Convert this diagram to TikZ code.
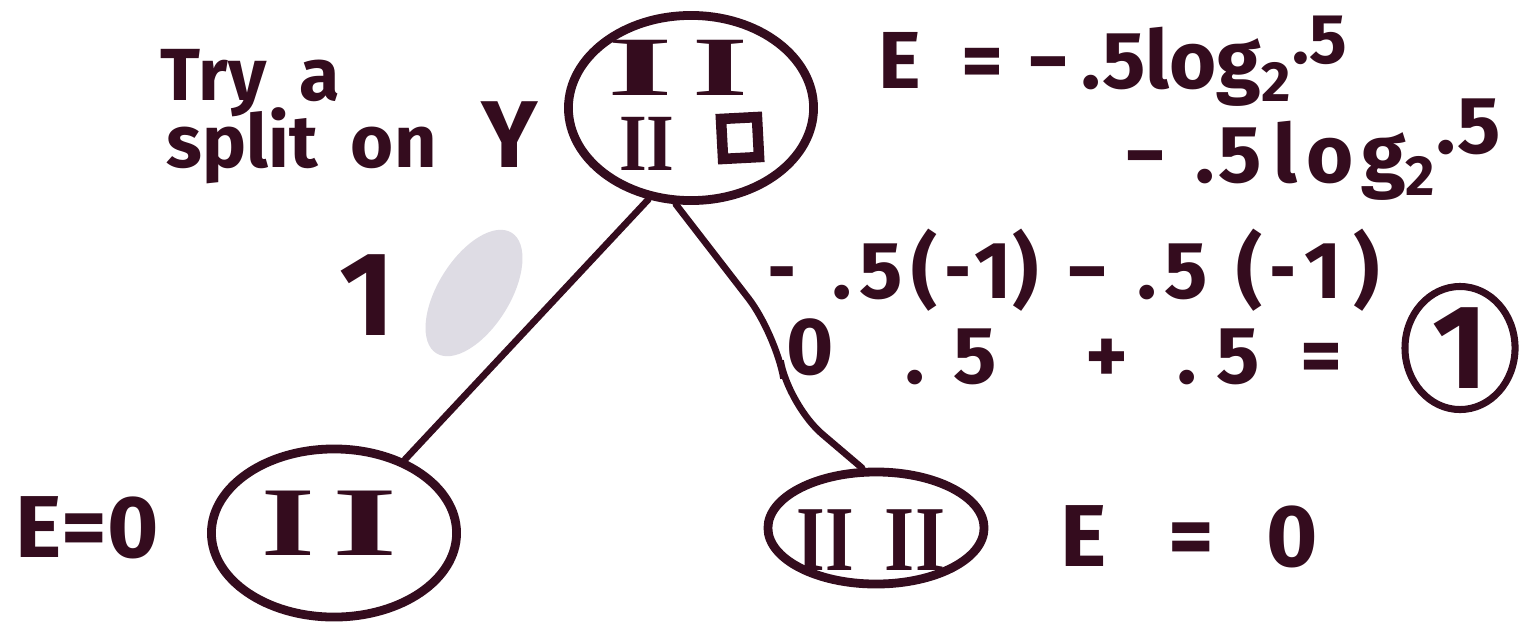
\documentclass[tikz,border=0pt]{standalone}
\usepackage{fontspec}
\setmainfont{Fira Sans}
\newfontfamily\romfont{Liberation Serif}
\usetikzlibrary{shapes.geometric}
\definecolor{ink}{RGB}{52,12,30}
\definecolor{smudgegray}{RGB}{222,220,228}
\newcommand\gp[1]{\hspace{#1em}}
\newcommand\shm[1]{\scalebox{#1}[1]{−}}
\begin{document}
\begin{tikzpicture}[x=0.01cm,y=-0.01cm,
  bub/.style={draw=ink, line width=2.5pt, ellipse, inner sep=0pt},
  link/.style={draw=ink, line width=1.9pt, line cap=round},
  hand/.style={text=ink, inner sep=0pt, font=\fontsize{21}{25}\selectfont\bfseries},
  eqn/.style={text=ink, inner sep=0pt, font=\fontsize{23}{27}\selectfont\bfseries},
  big/.style={text=ink, inner sep=0pt, font=\fontsize{34}{38}\selectfont\bfseries},
  rom/.style={text=ink, inner sep=0pt, font=\romfont\bfseries\fontsize{22}{26}\selectfont},
  eqz/.style={text=ink, inner sep=0pt, font=\fontsize{25}{30}\selectfont\bfseries},
]
\useasboundingbox (0,0) rectangle (1537,627);
\fill[white] (0,0) rectangle (1537,627);

% erased mark
\node[ellipse, fill=smudgegray, minimum width=1.42cm, minimum height=0.72cm, rotate=58, inner sep=0pt] (smudge) at (474,293) {};

% bubbles
\node[bub, minimum width=2.45cm, minimum height=1.85cm] (top) at (691,108) {};
\node[bub, minimum width=2.45cm, minimum height=1.68cm] (left) at (334,533) {};
\node[bub, minimum width=2.16cm, minimum height=1.12cm] (right) at (876,528) {};

% bubble contents
\node[rom, font=\romfont\bfseries\fontsize{24}{28}\selectfont] (t1) at (640,68) {\scalebox{2.0}[1]{I}};
\node[rom, font=\romfont\bfseries\fontsize{24}{28}\selectfont] (t2) at (720,68) {\scalebox{1.7}[1]{I}};
\node[rom] (t3) at (647,144) {\scalebox{0.92}[1.05]{II}};
\node[draw=ink, line width=3pt, minimum width=0.36cm, minimum height=0.40cm, inner sep=0pt, rotate=3] (sq) at (740,138) {};
\node[rom, font=\romfont\bfseries\fontsize{28}{32}\selectfont] (l1) at (288,523) {\scalebox{1.4}[1]{I}};
\node[rom, font=\romfont\bfseries\fontsize{28}{32}\selectfont] (l2) at (365,523) {\scalebox{1.7}[1]{I}};
\node[rom] (r1t) at (825,540) {\scalebox{0.95}[1.2]{II}};
\node[rom] (r2t) at (915,540) {\scalebox{1.0}[1.2]{II}};

% connectors
\draw[link] (top.245) -- (left.46);
\coordinate (rb1) at (776,334);
\coordinate (rb2) at (788,405);
\draw[link, rounded corners=0.45cm] (top.261) -- (rb1) -- (rb2) -- (right.103);

% branch labels
\node[big] (lab1) at (367,295) {1};
\node[eqn] (lab0) at (810,347) {0};

% left note
\node[hand, anchor=base west] (try) at (160,100) {Try\gp{0.45}a};
\node[hand, anchor=base west] (split) at (166,167) {split\gp{0.45}on\gp{0.6}{\fontsize{27}{30}\selectfont Y}};

% entropy computation
\node[eqn, anchor=base west] (eq1) at (878,88) {E\gp{0.5}=\gp{0.3}−\gp{0.15}.5log\textsubscript{2}\raisebox{0.3em}{\fontsize{20}{24}\selectfont .5}};
\node[eqn, anchor=base west] (eq2) at (1124,182) {−\gp{0.35}.\gp{0.05}5\gp{0.15}l\gp{0.1}o\gp{0.1}g\textsubscript{2}\raisebox{0.35em}{.5}};
\node[eqn, anchor=base west] (eq3) at (768,298) {\shm{0.65}\gp{0.45}.\gp{0.1}5\gp{0.1}(\gp{0.1}\shm{0.6}\gp{0.05}1)\gp{0.35}−\gp{0.35}.\gp{0.1}5\gp{0.35}(\gp{0.1}\shm{0.6}\gp{0.1}1\gp{0.15})};
\node[eqn, anchor=base west] (eq4) at (905,383) {.\gp{0.35}5\gp{1.1}+\gp{0.6}.\gp{0.25}5\gp{0.5}=};
\node[bub, big, line width=2pt, minimum width=1.10cm, minimum height=1.23cm] (res) at (1460,348) {1};

% leaf entropies
\node[eqz, anchor=west] (eL) at (15,528) {E=0};
\node[eqz, anchor=west] (eR) at (1060,537) {E\gp{0.7}=\gp{0.6}0};
\end{tikzpicture}
\end{document}
